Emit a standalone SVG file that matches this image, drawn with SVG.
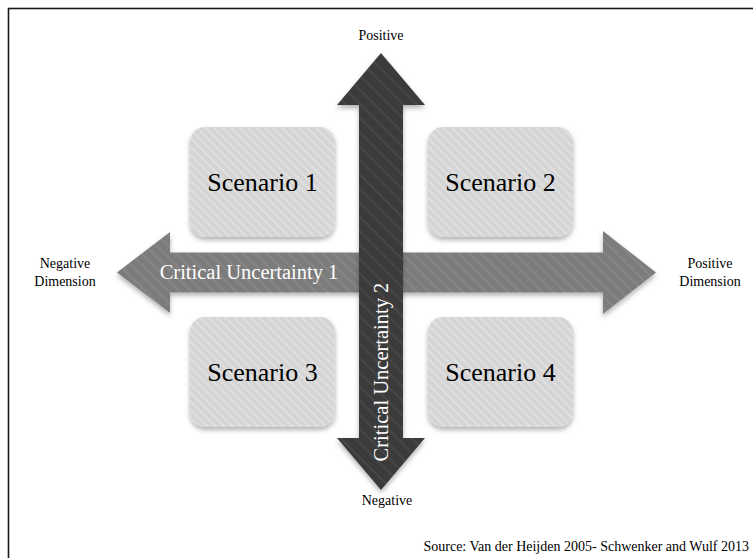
<svg xmlns="http://www.w3.org/2000/svg" width="753" height="558" viewBox="0 0 753 558">
  <style>
    .lbl { font-family: "Liberation Serif", "Times New Roman", serif; fill: #000; }
    .small { font-size: 14px; }
    .scen { font-size: 26px; text-anchor: middle; }
    .arrowtxt { font-family: "Liberation Serif", "Times New Roman", serif; fill: #fff; font-size: 20.5px; text-anchor: middle; }
    .box { fill: url(#stripeLight); filter: url(#shadow); }
  </style>
  <defs>
    <pattern id="stripeLight" width="6" height="6" patternUnits="userSpaceOnUse" patternTransform="rotate(-45)">
      <rect width="6" height="6" fill="#d5d5d5"/>
      <rect width="2" height="6" fill="#e0e0e0"/>
    </pattern>
    <pattern id="stripeMid" width="8" height="8" patternUnits="userSpaceOnUse" patternTransform="rotate(-45)">
      <rect width="8" height="8" fill="#7b7b7b"/>
      <rect width="2" height="8" fill="#868686"/>
    </pattern>
    <pattern id="stripeDark" width="10" height="10" patternUnits="userSpaceOnUse" patternTransform="rotate(-45)">
      <rect width="10" height="10" fill="#3b3b3b"/>
      <rect width="2" height="10" fill="#464646"/>
    </pattern>
    <filter id="shadow" x="-10%" y="-10%" width="120%" height="130%">
      <feDropShadow dx="0" dy="3" stdDeviation="2.5" flood-color="#000" flood-opacity="0.3"/>
    </filter>
  </defs>

  <rect x="0" y="0" width="753" height="558" fill="#fff"/>
  <rect x="8.5" y="8.5" width="800" height="600" fill="none" stroke="#1a1a1a" stroke-width="1.6"/>

  <g id="scenario1">
    <rect class="box" x="190" y="127" width="145" height="110" rx="15"/>
    <text class="lbl scen" x="262.5" y="191">Scenario 1</text>
  </g>
  <g id="scenario2">
    <rect class="box" x="428" y="127" width="145" height="110" rx="15"/>
    <text class="lbl scen" x="500.5" y="191">Scenario 2</text>
  </g>
  <g id="scenario3">
    <rect class="box" x="190" y="317" width="145" height="110" rx="15"/>
    <text class="lbl scen" x="262.5" y="381">Scenario 3</text>
  </g>
  <g id="scenario4">
    <rect class="box" x="428" y="317" width="145" height="110" rx="15"/>
    <text class="lbl scen" x="500.5" y="381">Scenario 4</text>
  </g>

  <g id="connectors">
    <g id="uncertainty1">
      <polygon points="117,272.5 170,232 170,252.5 603,252.5 603,231 656,272.5 603,314 603,292.5 170,292.5 170,313" fill="url(#stripeMid)" filter="url(#shadow)"/>
      <text class="arrowtxt" x="249" y="279">Critical Uncertainty 1</text>
    </g>
    <g id="uncertainty2">
      <polygon points="381,53 425,105 403,105 403,438 425,438 381,490 337,438 359,438 359,105 337,105" fill="url(#stripeDark)" filter="url(#shadow)"/>
      <text class="arrowtxt" transform="translate(388,372) rotate(-90)" x="0" y="0">Critical Uncertainty 2</text>
    </g>
  </g>

  <g id="axis-labels">
    <text class="lbl small" x="381" y="40" text-anchor="middle">Positive</text>
    <text class="lbl small" x="387" y="505" text-anchor="middle">Negative</text>
    <text class="lbl small" x="65" y="268" text-anchor="middle">Negative</text>
    <text class="lbl small" x="65" y="286" text-anchor="middle">Dimension</text>
    <text class="lbl small" x="710" y="268" text-anchor="middle">Positive</text>
    <text class="lbl small" x="710" y="286" text-anchor="middle">Dimension</text>
    <text class="lbl small" x="749" y="551" text-anchor="end">Source: Van der Heijden 2005- Schwenker and Wulf 2013</text>
  </g>
</svg>
